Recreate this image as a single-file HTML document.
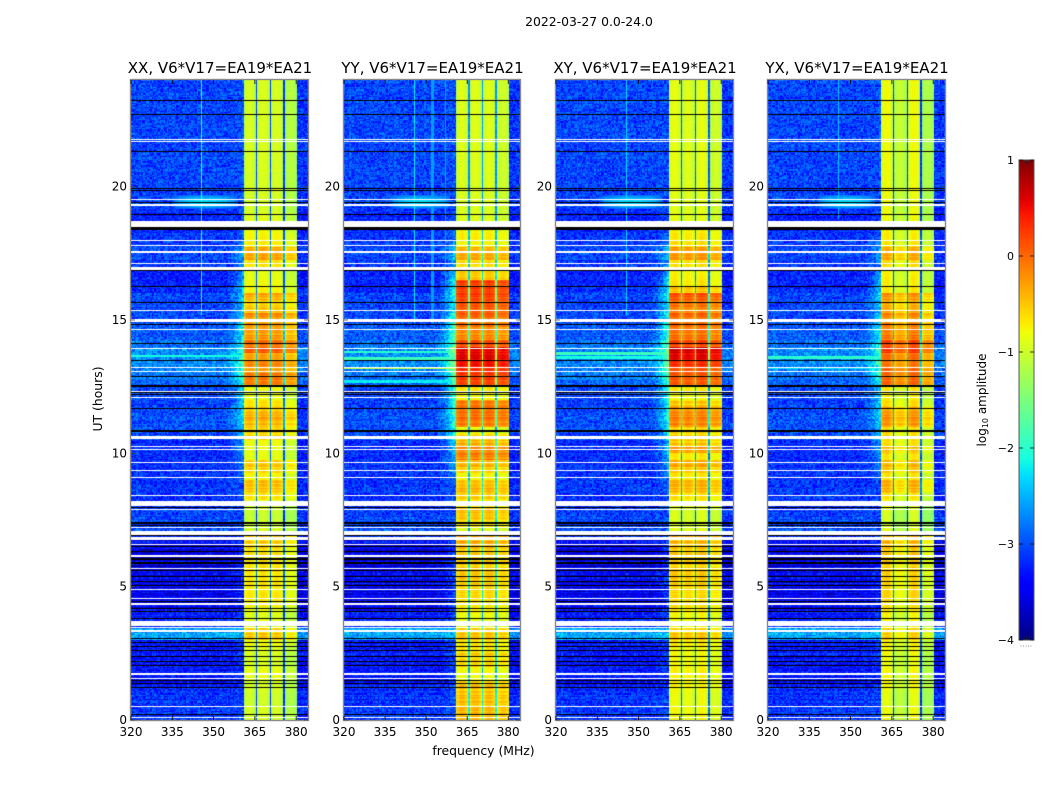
<!DOCTYPE html>
<html lang="en">
<head>
<meta charset="utf-8">
<title>2022-03-27 dynamic spectra</title>
<style>
html,body{margin:0;padding:0;background:#fff;width:1050px;height:800px;overflow:hidden}
#figure{position:relative;width:1050px;height:800px;background:#fff;font-family:"DejaVu Sans","Liberation Sans",sans-serif}
canvas{position:absolute;top:80px;display:block}
#overlay{position:absolute;left:0;top:0}
text{font-family:"DejaVu Sans","Liberation Sans",sans-serif;fill:#000}
</style>
</head>
<body>
<div id="figure">
<canvas id="heat0" width="177" height="640" style="left:131px"></canvas>
<canvas id="heat1" width="176" height="640" style="left:344px"></canvas>
<canvas id="heat2" width="177" height="640" style="left:556px"></canvas>
<canvas id="heat3" width="177" height="640" style="left:768px"></canvas>
<svg id="overlay" width="1050" height="800" xmlns="http://www.w3.org/2000/svg">
<defs><linearGradient id="jetGradient" x1="0" y1="1" x2="0" y2="0"></linearGradient></defs>
<text x="589" y="26" text-anchor="middle" font-size="12.4">2022-03-27 0.0-24.0</text>
<text x="483.500" y="755" text-anchor="middle" font-size="12.4">frequency (MHz)</text>
<text x="102" y="399" text-anchor="middle" font-size="12.4" transform="rotate(-90 102 399)">UT (hours)</text>
<text x="986" y="400" text-anchor="middle" font-size="12" transform="rotate(-90 986 400)">log<tspan font-size="8" dy="2">10</tspan><tspan dy="-2"> amplitude</tspan></text>
</svg>
</div>
<script>
// ---------- axes ----------
const panelTitles = ["XX, V6*V17=EA19*EA21","YY, V6*V17=EA19*EA21","XY, V6*V17=EA19*EA21","YX, V6*V17=EA19*EA21"];
const xTickLabels = [320,335,350,365,380];
const yTickLabels = [0,5,10,15,20];
const colorbarTicks = [-4,-3,-2,-1,0,1];

// ---------- band amplitude (log10), one value per 0.25 h from 0 h ----------
const bandXX = [-1,-1,-1.05,-1.05,-1,-1,-.9,-.9,-1,-1,-.95,-.85,
 -.55,-.55,-.9,-.95,-.9,-.75,-.7,-.75,-.7,-.75,-.7,-.7,
 -.65,-.65,-.6,-.6,-1,-1.05,-1.1,-1.05,-.95,-.7,-.55,-.5,
 -.8,-.6,-.55,-.9,-.9,-.85,-.6,-.6,-.45,-.4,-.5,-.7,
 -.9,-.85,-.15,-.1,-.3,-.2,-.35,.05,-.1,-.3,-.3,-.35,
 -.25,-.5,-.6,-.4,-.8,-.85,-.9,-.95,-.7,-.35,-.4,-.75,
 -.8,-.85,-.9,-.95,-1,-1,-1,-1,-1,-1,-1,-1,
 -1,-1,-1,-1,-1,-1,-1,-1,-1,-1,-1,-1];
const bandYY = [-.45,-.45,-.5,-.5,-.5,-.5,-.85,-.8,-.6,-.6,-.7,-.7,
 -.5,-.5,-.9,-.85,-.75,-.7,-.6,-.6,-.55,-.55,-.55,-.55,
 -.55,-.5,-.4,-.35,-.95,-.7,-.5,-.45,-.75,-.55,-.45,-.5,
 -.8,-.55,-.45,-.15,-.2,-.4,-.6,-.9,-.1,-.05,-.05,-.15,
 -.8,-.7,.15,.25,.35,.45,.55,.55,.1,-.2,-.2,-.1,
 0,.05,.1,.2,.2,.15,-.55,-.6,-.65,-.35,-.45,-.8,
 -.75,-.8,-.9,-.95,-.95,-.95,-.95,-.95,-.95,-.95,-.95,-.95,
 -.95,-.95,-.95,-.95,-.95,-.95,-.95,-.95,-.95,-.95,-.95,-.95];
const bandXY = [-.85,-.85,-.9,-.9,-.85,-.8,-.8,-.8,-.85,-.85,-.85,-.75,
 -.55,-.6,-.85,-.85,-.75,-.7,-.65,-.65,-.6,-.6,-.6,-.6,
 -.55,-.55,-.5,-.45,-.95,-1,-1,-1,-.85,-.7,-.5,-.45,
 -.75,-.55,-.4,-.75,-.35,-.55,-.6,-.65,-.2,-.2,-.25,-.6,
 -.85,-.75,0,.05,.1,.25,.5,.6,.1,-.1,-.1,-.1,
 -.05,-.2,-.1,.05,-.55,-.75,-.8,-.85,-.7,-.3,-.35,-.7,
 -.75,-.8,-.9,-.95,-.95,-.95,-.95,-.95,-.95,-.95,-.95,-.95,
 -.95,-.95,-.95,-.95,-.95,-.95,-.95,-.95,-.95,-.95,-.95,-.95];
const bandYX = [-.95,-.95,-1,-1,-.95,-.9,-.9,-.9,-.95,-.95,-.9,-.85,
 -.65,-.65,-.9,-.9,-.8,-.75,-.7,-.7,-.7,-.7,-.65,-.65,
 -.6,-.6,-.55,-.55,-1.05,-1.1,-1.1,-1.05,-.95,-.8,-.55,-.5,
 -.8,-.6,-.55,-.8,-.6,-.75,-.75,-.75,-.35,-.35,-.4,-.75,
 -.85,-.8,-.1,-.1,-.05,-.2,-.15,.15,.05,-.2,-.25,-.3,
 -.3,-.45,-.5,-.35,-.8,-.85,-.85,-.9,-.75,-.45,-.5,-.8,
 -.85,-.9,-.9,-.95,-.95,-.95,-.95,-.95,-.95,-.95,-.95,-.95,
 -.95,-.95,-.95,-.95,-.95,-.95,-.95,-.95,-.95,-.95,-.95,-.95];
const subbandStartMHz = [361,365.8,370.8,375.8];
const subbandEndMHz = [365.2,370.2,375.2,380.4];
const subbandOffsetXX = [0,.03,0,-.2];
const subbandOffsetYY = [0,0,0,-.1];
const subbandOffsetXY = [.05,0,.05,-.1];
const subbandOffsetYX = [.1,-.15,.1,-.3];
const gapDropDex = [2.1,1.7,2.0,2.2];

// ---------- quiet-channel background level, one value per 0.25 h ----------
const backgroundLevel = [-3.1,-3.1,-3.15,-3.15,-3.15,-3.3,-3.3,-3.3,-3.3,-3.3,-3.3,-3.3,
 -2.55,-2.55,-3.15,-3.3,-3.4,-3.45,-3.45,-3.45,-3.45,-3.45,-3.5,-3.5,
 -3.5,-3.45,-3.4,-3.3,-3.05,-3.05,-3.05,-3.05,-3.2,-3.15,-3.1,-3.15,
 -3.15,-3.15,-3.15,-3.2,-3.2,-3.2,-3.05,-3,-3,-3,-3.05,-3.1,
 -3.05,-3.05,-2.9,-2.8,-2.75,-2.7,-2.7,-2.7,-2.85,-2.95,-2.95,-3,
 -3.05,-3.05,-3.05,-3.05,-3.2,-3.25,-3.25,-3.25,-3.15,-3.05,-3.05,-3.1,
 -3.15,-3.2,-3.25,-3.25,-3.15,-3.05,-3.05,-3.1,-3.05,-3.05,-3.05,-3.05,
 -3.05,-3.05,-3.05,-3.05,-3.05,-3.05,-3.05,-3.05,-3.05,-3.05,-3.05,-3.05];
// level reached just below the band (shoulder below 361 MHz), per 0.25 h
const shoulderLevel = [-3,-3,-3,-3,-3,-3,-3,-3,-3,-3,-3,-3,
 -2.4,-2.4,-3,-3,-3,-3,-3,-3,-3,-3,-3,-3,
 -3,-3,-3,-3,-3,-3,-3,-3,-2.9,-2.9,-2.9,-2.9,
 -2.7,-2.5,-2.4,-2.3,-2.2,-2.2,-2,-2,-1.8,-1.8,-1.7,-1.8,
 -1.8,-1.7,-1.5,-1.4,-1.1,-1.2,-1.3,-1.1,-1.4,-1.6,-1.6,-1.6,
 -1.7,-2,-2,-1.8,-1.8,-1.9,-2.1,-2.3,-2.5,-2.3,-2.3,-2.6,
 -2.8,-2.9,-3,-3,-3,-3,-3,-3,-3,-3,-3,-3,
 -3,-3,-3,-3,-3,-3,-3,-3,-3,-3,-3,-3];
const shoulderGain = [.6,1,.75,.6];

// ---------- narrow features ----------
const rfiPanel = [0,1,1,1,2,3];
const rfiMHz = [345.9,345.9,352.4,357.2,345.9,345.9];
const rfiStartHour = [15.2,14.9,14.9,14.9,15.2,18.8];
const rfiLevel = [-2.1,-2.2,-2.6,-2.6,-2.3,-2.4];
const rowLinePanel = [0,1,1,1,1,2,2,3,3];
const rowLineHour = [13.65,13.2,13.55,13.8,12.7,13.75,13.6,13.6,13.2];
const rowLineLevel = [-2.1,-1.1,-1.9,-2,-2.2,-1.9,-2.1,-2,-2.3];
const bumpStartHour = 19.15;
const bumpEndHour = 19.7;
const bumpStartMHz = [335,337,336,338];
const bumpEndMHz = [359,359,359,359];
const bumpLevel = -2.25;

// ---------- flagged integrations (hours) ----------
const blackStart = [23.2,22.68,21.3,19.9,19.84,19.4,18.93,18.375,16.84,16.25,15.63,14.8,14.11,13.45,12.85,12.5,12.26,12.18,11.65,10.85,10.8,7.95,7.34,7.28,6.9,6.47,6.3,6,5.85,5.59,5.36,5.19,5.03,4.43,4.15,4.05,3.78,3.03,2.9,2.73,2.6,2.37,2.19,2.03,1.46,1.35,1.19,.2];
const blackEnd = [23.24,22.72,21.34,19.94,19.88,19.44,18.97,18.5,16.88,16.29,15.67,14.84,14.15,13.49,12.89,12.57,12.3,12.22,11.69,10.89,10.84,7.99,7.44,7.32,6.94,6.51,6.34,6.08,5.93,5.63,5.4,5.23,5.07,4.47,4.19,4.09,3.82,3.07,2.94,2.77,2.64,2.41,2.23,2.07,1.5,1.39,1.23,.24];
const whiteStart = [21.75,21.67,19.51,19.28,18.5,17.95,17.78,17.53,17.11,16.88,15.34,14.93,14.61,13.92,13.21,13.06,12.31,12.06,10.53,10.23,10.13,9.64,9.34,9.06,8.41,8.03,7.86,7.19,6.93,6.75,6.57,6.13,5.67,4.86,4.54,4.33,3.53,3.46,3.3,1.68,1.53,.48,.08];
const whiteEnd = [21.79,21.71,19.55,19.35,18.71,17.99,17.82,17.57,17.15,16.99,15.38,15.05,14.65,13.96,13.25,13.1,12.35,12.1,10.66,10.27,10.17,9.68,9.38,9.1,8.45,8.21,7.9,7.23,7.09,6.85,6.61,6.17,5.71,4.9,4.58,4.37,3.71,3.5,3.38,1.75,1.57,.52,.12];

// ---------- fixed speckle texture (dex residuals) ----------
const speckle = [.12,-.31,.28,-.05,.41,-.22,.07,-.38,.19,.33,-.14,-.27,.03,.36,-.09,.24,-.41,.16,-.02,.44,-.33,.09,.29,-.18,-.06,.38,-.25,.14,-.36,.22,.01,-.12,.31,-.29,.43,-.08,.17,-.4,.26,-.16,.05,.35,-.21,-.34,.11,.39,-.03,.2,-.28,.08,-.44,.32,-.11,.15,.27,-.37,.02,.42,-.19,.23,-.07];
const rowSpeckle = [.06,-.28,.14,-.4,.2,.02,-.34,.1,-.16,.3,-.46,.08,-.22,.26,-.06,-.36,.18,-.12,.34,-.3,.04,.22,-.42,.12,-.08,.28,-.24,.16,-.38,.1,-.18];

const bandByPanel = [bandXX,bandYY,bandXY,bandYX];
const offsetByPanel = [subbandOffsetXX,subbandOffsetYY,subbandOffsetXY,subbandOffsetYX];
const panelLeft = [131,344,556,768];
const panelWidth = [177,176,177,177];
const PANEL_TOP = 80, PANEL_H = 640, HOURS = 24, MHZ0 = 320, MHZ1 = 384.3;
const NCOLS = 129, NROWS = 480;

function ch(x){return Math.max(0,Math.min(1,x));}
function jet(t){
  t=ch(t);
  let r = t<.35?0:t<.66?(t-.35)/.31:t<.89?1:1-(t-.89)/.11*.5;
  let g = t<.125?0:t<.375?(t-.125)/.25:t<.64?1:t<.91?1-(t-.64)/.27:0;
  let b = t<.11?.5+t/.11*.5:t<.34?1:t<.65?1-(t-.34)/.31:0;
  return 'rgb('+Math.round(ch(r)*255)+','+Math.round(ch(g)*255)+','+Math.round(ch(b)*255)+')';
}
function valueColor(v){return jet((v+4)/5);}
function yScale(h){return PANEL_H-h/HOURS*PANEL_H;}
function xScale(p,m){return (m-MHZ0)/(MHZ1-MHZ0)*panelWidth[p];}

function cellValue(p,c,r,mhz,h){
  const q=Math.min(95,Math.floor(h/.25));
  const tex=speckle[(c*7+r*13+p*5+(c*r)%11)%speckle.length];
  const rowTex=rowSpeckle[r%rowSpeckle.length];
  const level=bandByPanel[p][q];
  for(let s=0;s<subbandStartMHz.length;s++){
    if(mhz>=subbandStartMHz[s]&&mhz<subbandEndMHz[s]){
      const mid=(subbandStartMHz[s]+subbandEndMHz[s])/2, half=(subbandEndMHz[s]-subbandStartMHz[s])/2;
      const dome=-.25*Math.pow((mhz-mid)/half,2);
      const rowAmp=level>-.7?.3:.08;
      return level+.08+offsetByPanel[p][s]+dome+tex*.08+rowTex*rowAmp;
    }
  }
  if(mhz>=361&&mhz<380.4) return level-gapDropDex[p]+tex*.3;
  const bg=backgroundLevel[q];
  const stripe=h<4?.28:h<7?.55:h<8?.3:.08;
  let v=bg+tex*.75+rowTex*stripe;
  if(mhz>=380.4){ return v-.08; }
  if(mhz>353){
    const ramp=Math.pow((mhz-353)/8,2);
    const target=shoulderLevel[q];
    if(target>bg){ v+=(target-bg)*shoulderGain[p]*ramp; }
  }
  if(h>bumpStartHour&&h<bumpEndHour&&mhz>bumpStartMHz[p]&&mhz<bumpEndMHz[p]){
    const mid=(bumpStartMHz[p]+bumpEndMHz[p])/2, half=(bumpEndMHz[p]-bumpStartMHz[p])/2;
    const shape=1-Math.pow((mhz-mid)/half,2);
    const hw=(bumpEndHour-bumpStartHour)/2, hmid=(bumpStartHour+bumpEndHour)/2;
    const across=1-Math.abs(h-hmid)/hw;
    v=Math.max(v,bg+(bumpLevel-bg)*Math.sqrt(shape)*Math.sqrt(across)+tex*.15);
  }
  for(let i=0;i<rowLinePanel.length;i++){
    if(rowLinePanel[i]===p&&Math.abs(h-rowLineHour[i])<.06){ v=Math.max(v,rowLineLevel[i]+tex*.2); }
  }
  for(let i=0;i<rfiPanel.length;i++){
    if(rfiPanel[i]===p&&Math.abs(mhz-rfiMHz[i])<.26&&h>rfiStartHour[i]){ v=Math.max(v,rfiLevel[i]); }
  }
  return v;
}

for(let p=0;p<4;p++){
  const ctx=document.getElementById('heat'+p).getContext('2d');
  const colW=(MHZ1-MHZ0)/NCOLS, rowH=HOURS/NROWS;
  for(let r=0;r<NROWS;r++){
    const h=(r+.5)*rowH;
    const y1=Math.round(yScale(r*rowH)), y0=Math.round(yScale((r+1)*rowH));
    for(let c=0;c<NCOLS;c++){
      const mhz=MHZ0+(c+.5)*colW;
      const x0=Math.round(xScale(p,MHZ0+c*colW)), x1=Math.round(xScale(p,MHZ0+(c+1)*colW));
      ctx.fillStyle=valueColor(cellValue(p,c,r,mhz,h));
      ctx.fillRect(x0,y0,Math.max(1,x1-x0),Math.max(1,y1-y0));
    }
  }
  ctx.fillStyle='#000';
  for(let i=0;i<blackStart.length;i++){
    const y=Math.round(yScale(blackEnd[i]));
    ctx.fillRect(0,y,panelWidth[p],Math.max(1,Math.round(yScale(blackStart[i]))-y));
  }
  ctx.fillStyle='#fff';
  for(let i=0;i<whiteStart.length;i++){
    const y=Math.round(yScale(whiteEnd[i]));
    ctx.fillRect(0,y,panelWidth[p],Math.max(1,Math.round(yScale(whiteStart[i]))-y));
  }
}

// ---------- svg axes ----------
const NS='http://www.w3.org/2000/svg';
const svg=document.getElementById('overlay');
function add(tag,attrs,parent){
  const el=document.createElementNS(NS,tag);
  for(const k in attrs) el.setAttribute(k,attrs[k]);
  (parent||svg).appendChild(el);
  return el;
}
const tickLen=4;
for(let p=0;p<4;p++){
  const L=panelLeft[p], W=panelWidth[p], T=PANEL_TOP, B=PANEL_TOP+PANEL_H;
  const g=add('g',{});
  
  
  const title=add('text',{x:L+W/2+.5,y:73,'text-anchor':'middle','font-size':15},g);
  
  
  title.textContent=panelTitles[p];
  const frame=add('rect',{x:L-.5,y:T-.5,width:W+1,height:PANEL_H+1,fill:'none',stroke:'#8a8a8a','stroke-width':1.4},g);
  
  
  xTickLabels.forEach(function(t){
    const x=L+xScale(p,t);
    const tickB=add('path',{d:'M'+x+' '+B+'v'+(-tickLen)+'M'+x+' '+T+'v'+tickLen,stroke:'#000','stroke-width':.8,fill:'none'},g);
    
    
    const lab=add('text',{x:x,y:736,'text-anchor':'middle','font-size':12},g);
    
    
    lab.textContent=t;
  });
  yTickLabels.forEach(function(t){
    const y=T+yScale(t);
    const tickL=add('path',{d:'M'+L+' '+y+'h'+tickLen+'M'+(L+W)+' '+y+'h'+(-tickLen),stroke:'#444','stroke-width':.8,fill:'none'},g);
    
    
    const lab=add('text',{x:L-4,y:y+4,'text-anchor':'end','font-size':12},g);
    
    
    lab.textContent=t;
  });
}

// ---------- colorbar ----------
const CB_X=1019, CB_W=15, CB_T=160, CB_H=480;
function cbY(v){return CB_T+(1-(v+4)/5)*CB_H;}
const grad=document.getElementById('jetGradient');
for(let i=0;i<=50;i++){
  add('stop',{offset:(i*2)+'%','stop-color':jet(i/50)},grad);
}
const cbBar=add('rect',{x:CB_X,y:CB_T,width:CB_W,height:CB_H,fill:'url(#jetGradient)',stroke:'#555','stroke-width':1});


colorbarTicks.forEach(function(v){
  const y=cbY(v);
  const tk=add('path',{d:'M'+CB_X+' '+y+'h4M'+(CB_X+CB_W)+' '+y+'h-4',stroke:'#000','stroke-width':.8,fill:'none'});
  
  
  const lab=add('text',{x:CB_X-5,y:y+4,'text-anchor':'end','font-size':11},svg);
  
  
  lab.textContent=v<0?'\u2212'+(-v):String(v);
});
[2.5,5,7.5,10,12.5].forEach(function(dx){
  const m=add('path',{d:'M'+(CB_X+dx)+' '+CB_T+'v4M'+(CB_X+dx)+' '+(CB_T+CB_H)+'v-4M'+(CB_X+dx-1)+' 646h1',stroke:'#222','stroke-width':.6,fill:'none'});
  
  
});
</script>
</body>
</html>
